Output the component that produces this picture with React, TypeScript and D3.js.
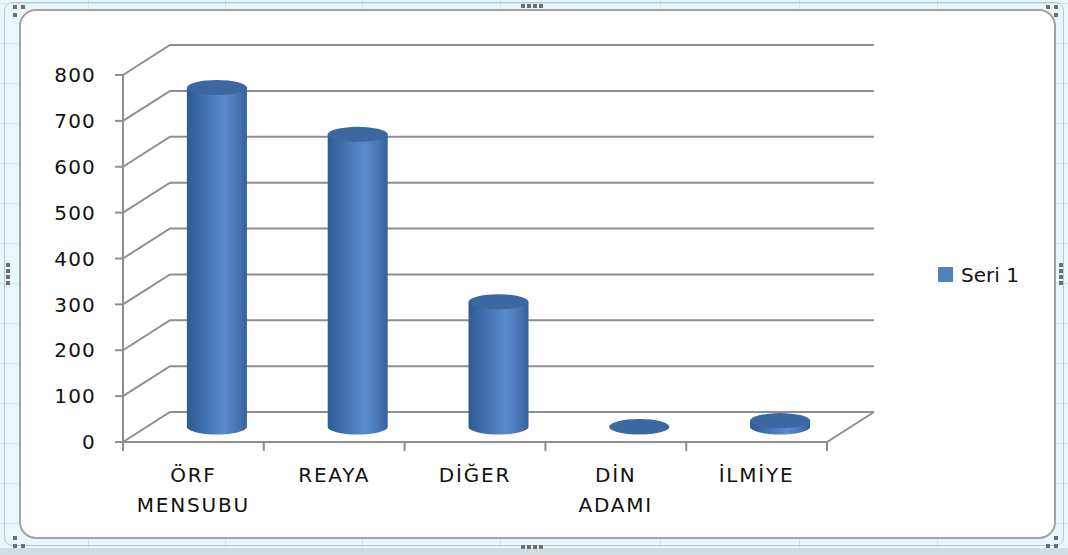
import { useEffect, useRef } from "react";
import { select, scaleLinear, scaleBand, range } from "d3";

const categories = [["ÖRF", "MENSUBU"], ["REAYA"], ["DİĞER"], ["DİN", "ADAMI"], ["İLMİYE"]];
const values = [740, 638, 273, 1, 14];
const yTicks = [0, 100, 200, 300, 400, 500, 600, 700, 800];
const seriesName = "Seri 1";

const W = 1068;
const H = 555;
const depth = { dx: 47, dy: -30 };
const font = "'DejaVu Sans', sans-serif";

const Chart = () => {
  const ref = useRef<SVGSVGElement>(null);

  useEffect(() => {
    const svg = select(ref.current);
    svg.selectAll("*").remove();

    const defs = svg.append("defs");
    const body = defs.append("linearGradient").attr("id", "cyl").attr("x1", 0).attr("x2", 1).attr("y1", 0).attr("y2", 0);
    body.append("stop").attr("offset", "0%").attr("stop-color", "#2f5a92");
    body.append("stop").attr("offset", "25%").attr("stop-color", "#3f6eac");
    body.append("stop").attr("offset", "62%").attr("stop-color", "#5a8bcf");
    body.append("stop").attr("offset", "88%").attr("stop-color", "#4472b0");
    body.append("stop").attr("offset", "100%").attr("stop-color", "#34609a");

    // spreadsheet background
    svg.append("rect").attr("width", W).attr("height", H).attr("fill", "#e8f7fb");
    const g0 = svg.append("g").attr("stroke", "#cfe6ee").attr("stroke-width", 1);
    [88, 225, 362, 500, 660, 799, 937].forEach((x) =>
      g0.append("line").attr("x1", x + 0.5).attr("x2", x + 0.5).attr("y1", 0).attr("y2", H)
    );
    range(3, H, 40).forEach((y) =>
      g0.append("line").attr("x1", 0).attr("x2", W).attr("y1", y + 0.5).attr("y2", y + 0.5)
    );
    svg.append("rect").attr("x", 0).attr("y", 548).attr("width", W).attr("height", 7).attr("fill", "#d3dcdf");
    svg.append("rect").attr("x", 4.5).attr("y", 2.5).attr("width", 1059).attr("height", 543)
      .attr("rx", 8).attr("fill", "none").attr("stroke", "#b9c6ca").attr("stroke-width", 1);

    // chart frame
    svg.append("rect").attr("x", 20).attr("y", 10).attr("width", 1035).attr("height", 528)
      .attr("rx", 16).attr("fill", "#ffffff").attr("stroke", "#a3a3a3").attr("stroke-width", 2);

    // handles
    const dots: [number, number][] = [
      [13, 5], [21, 5], [13, 13], [1046, 5], [1054, 5], [1054, 13],
      [13, 536], [13, 544], [21, 544], [1054, 536], [1054, 544], [1046, 544],
      [6, 263], [6, 269], [6, 275], [6, 281], [1059, 263], [1059, 269], [1059, 275], [1059, 281],
      [521, 4], [527, 4], [533, 4], [539, 4], [521, 545], [527, 545], [533, 545], [539, 545],
    ];
    svg.append("g").selectAll("rect").data(dots).join("rect")
      .attr("x", (d) => d[0]).attr("y", (d) => d[1]).attr("width", 4).attr("height", 4).attr("fill", "#6e6e6e");

    const x = scaleBand<number>().domain(range(categories.length)).range([123, 827]);
    const y = scaleLinear().domain([0, 800]).range([442, 75]);
    const right = 874;

    // walls / gridlines
    const grid = svg.append("g").attr("fill", "none").attr("stroke", "#8e8e8e").attr("stroke-width", 2);
    yTicks.forEach((t) => {
      const yy = y(t);
      grid.append("polyline").attr(
        "points",
        `${x.range()[0]},${yy} ${x.range()[0] + depth.dx},${yy + depth.dy} ${right},${yy + depth.dy}`
      );
    });
    // floor front edge and right edge
    grid.append("polyline").attr(
      "points",
      `${x.range()[0]},${y(0)} ${x.range()[1]},${y(0)} ${x.range()[1] + depth.dx},${y(0) + depth.dy}`
    );
    // value axis
    grid.append("line").attr("x1", 123).attr("x2", 123).attr("y1", y(800)).attr("y2", y(0));
    yTicks.forEach((t) => grid.append("line").attr("x1", 115).attr("x2", 123).attr("y1", y(t)).attr("y2", y(t)));
    range(categories.length + 1).forEach((i) => {
      const xx = i < categories.length ? x(i)! : x.range()[1];
      grid.append("line").attr("x1", xx).attr("x2", xx).attr("y1", y(0)).attr("y2", y(0) + 9);
    });

    // tick labels
    svg.append("g").selectAll("text").data(yTicks).join("text")
      .attr("x", 96).attr("y", (d) => y(d)).attr("dy", "0.36em").attr("text-anchor", "end")
      .attr("font-family", font).attr("font-size", 20).attr("letter-spacing", 1.2).attr("fill", "#111")
      .text((d) => d);

    const cat = svg.append("g").attr("font-family", font).attr("font-size", 20)
      .attr("letter-spacing", 1.8).attr("fill", "#111").attr("text-anchor", "middle");
    categories.forEach((lines, i) => {
      lines.forEach((ln, j) => {
        cat.append("text").attr("x", x(i)! + x.bandwidth() / 2).attr("y", 482 + j * 30).text(ln);
      });
    });

    // cylinders
    const rx = 30;
    const ry = 7.5;
    const bars = svg.append("g");
    values.forEach((v, i) => {
      const cx = x(i)! + x.bandwidth() / 2 + depth.dx / 2;
      const yb = y(0) + depth.dy / 2;
      const yt = y(v) + depth.dy / 2;
      bars.append("path")
        .attr("d", `M${cx - rx},${yt} L${cx - rx},${yb} A${rx},${ry} 0 0 0 ${cx + rx},${yb} L${cx + rx},${yt} Z`)
        .attr("fill", "url(#cyl)");
      bars.append("ellipse").attr("cx", cx).attr("cy", yt).attr("rx", rx).attr("ry", ry)
        .attr("fill", "#3c68a2");
    });

    // legend
    const lg = svg.append("g").attr("transform", "translate(938,267)");
    lg.append("rect").attr("width", 15).attr("height", 15).attr("fill", "#4f81bd");
    lg.append("text").attr("x", 23).attr("y", 15).attr("font-family", font).attr("font-size", 20)
      .attr("fill", "#111").text(seriesName);
  }, []);

  return <svg ref={ref} width={W} height={H} style={{ display: "block" }} />;
};

export default function App() {
  return (
    <div style={{ position: "fixed", left: 0, top: 0, width: W, height: H, background: "#fff" }}>
      <Chart />
    </div>
  );
}
